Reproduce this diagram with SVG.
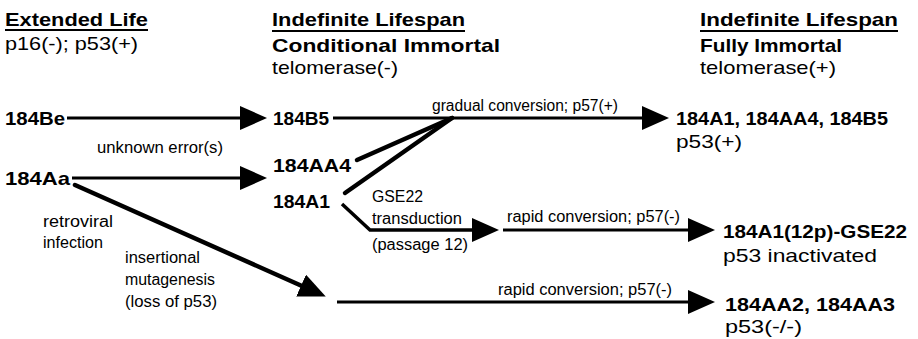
<svg xmlns="http://www.w3.org/2000/svg" width="918" height="339" viewBox="0 0 918 339">
<style>
.h{font-family:"Liberation Sans",Arial,sans-serif;font-weight:bold;font-size:19px;fill:#000}
.r{font-family:"Liberation Sans",Arial,sans-serif;font-size:19px;fill:#000}
.s{font-family:"Liberation Sans",Arial,sans-serif;font-size:16px;fill:#000}
.ln{stroke:#000;stroke-width:3;fill:none}
.tk{stroke:#000;stroke-width:4.5;fill:none;stroke-linecap:round}
.ul{stroke:#000;stroke-width:1.8}
</style>
<defs>
<marker id="ah" viewBox="0 0 27 24" refX="1" refY="12" markerWidth="27" markerHeight="24" markerUnits="userSpaceOnUse" orient="auto">
<path d="M0,0 L27,12 L0,24 Z" fill="#000"/>
</marker>
</defs>
<rect width="918" height="339" fill="#fff"/>
<g id="col-extended">
<text class="h" x="5" y="26" textLength="143" lengthAdjust="spacingAndGlyphs">Extended Life</text>
<line class="ul" x1="5" y1="30" x2="148" y2="30"/>
<text class="r" x="5" y="50" textLength="133" lengthAdjust="spacingAndGlyphs">p16(-); p53(+)</text>
</g>
<g id="col-conditional">
<text class="h" x="272" y="26" textLength="193" lengthAdjust="spacingAndGlyphs">Indefinite Lifespan</text>
<line class="ul" x1="272" y1="31" x2="465" y2="31"/>
<text class="h" x="272" y="52" textLength="228" lengthAdjust="spacingAndGlyphs">Conditional Immortal</text>
<text class="r" x="272" y="74" textLength="126" lengthAdjust="spacingAndGlyphs">telomerase(-)</text>
</g>
<g id="col-fully">
<text class="h" x="700" y="26" textLength="198" lengthAdjust="spacingAndGlyphs">Indefinite Lifespan</text>
<line class="ul" x1="700" y1="31" x2="898" y2="31"/>
<text class="h" x="700" y="52" textLength="142" lengthAdjust="spacingAndGlyphs">Fully Immortal</text>
<text class="r" x="700" y="74" textLength="136" lengthAdjust="spacingAndGlyphs">telomerase(+)</text>
</g>
<g id="n184Be"><text class="h" x="5" y="125" textLength="60" lengthAdjust="spacingAndGlyphs">184Be</text></g>
<g id="n184Aa"><text class="h" x="5" y="185" textLength="65" lengthAdjust="spacingAndGlyphs">184Aa</text></g>
<g id="n184B5"><text class="h" x="273" y="125" textLength="56" lengthAdjust="spacingAndGlyphs">184B5</text></g>
<g id="n184AA4"><text class="h" x="273" y="172" textLength="78" lengthAdjust="spacingAndGlyphs">184AA4</text></g>
<g id="n184A1"><text class="h" x="273" y="208" textLength="57" lengthAdjust="spacingAndGlyphs">184A1</text></g>
<g id="n-fully">
<text class="h" x="676" y="125" textLength="212" lengthAdjust="spacingAndGlyphs">184A1, 184AA4, 184B5</text>
<text class="r" x="676" y="148" textLength="66" lengthAdjust="spacingAndGlyphs">p53(+)</text>
</g>
<g id="n-gse22">
<text class="h" x="723" y="238" textLength="184" lengthAdjust="spacingAndGlyphs">184A1(12p)-GSE22</text>
<text class="r" x="723" y="262" textLength="154" lengthAdjust="spacingAndGlyphs">p53 inactivated</text>
</g>
<g id="n-aa23">
<text class="h" x="725" y="311" textLength="170" lengthAdjust="spacingAndGlyphs">184AA2, 184AA3</text>
<text class="r" x="725" y="333" textLength="77" lengthAdjust="spacingAndGlyphs">p53(-/-)</text>
</g>
<g id="connectors">
<line class="ln" x1="67" y1="118" x2="241" y2="118" marker-end="url(#ah)"/>
<line class="ln" x1="72" y1="178" x2="241" y2="178" marker-end="url(#ah)"/>
<line class="ln" x1="333" y1="118" x2="643" y2="118" marker-end="url(#ah)"/>
<line class="tk" x1="357" y1="160" x2="452" y2="118"/>
<line class="tk" x1="345" y1="193" x2="452" y2="118"/>
<polyline class="ln" points="342,204 370,230 473,230" marker-end="url(#ah)" style="stroke-width:3.5"/>
<line class="ln" x1="503" y1="230" x2="689" y2="230" marker-end="url(#ah)"/>
<line class="tk" x1="75" y1="185" x2="302" y2="286" marker-end="url(#ah)"/>
<line class="ln" x1="337" y1="302" x2="689" y2="302" marker-end="url(#ah)"/>
<text class="s" x="97" y="153" textLength="126" lengthAdjust="spacingAndGlyphs">unknown error(s)</text>
<text class="s" x="432" y="111" textLength="186" lengthAdjust="spacingAndGlyphs">gradual conversion; p57(+)</text>
<text class="s" x="372" y="202" textLength="51" lengthAdjust="spacingAndGlyphs">GSE22</text>
<text class="s" x="372" y="224" textLength="90" lengthAdjust="spacingAndGlyphs">transduction</text>
<text class="s" x="372" y="250" textLength="96" lengthAdjust="spacingAndGlyphs">(passage 12)</text>
<text class="s" x="507" y="222" textLength="173" lengthAdjust="spacingAndGlyphs">rapid conversion; p57(-)</text>
<text class="s" x="43" y="227" textLength="70" lengthAdjust="spacingAndGlyphs">retroviral</text>
<text class="s" x="43" y="248" textLength="60" lengthAdjust="spacingAndGlyphs">infection</text>
<text class="s" x="125" y="263" textLength="75" lengthAdjust="spacingAndGlyphs">insertional</text>
<text class="s" x="125" y="285" textLength="90" lengthAdjust="spacingAndGlyphs">mutagenesis</text>
<text class="s" x="125" y="307" textLength="92" lengthAdjust="spacingAndGlyphs">(loss of p53)</text>
<text class="s" x="498" y="295" textLength="174" lengthAdjust="spacingAndGlyphs">rapid conversion; p57(-)</text>
</g>
</svg>
